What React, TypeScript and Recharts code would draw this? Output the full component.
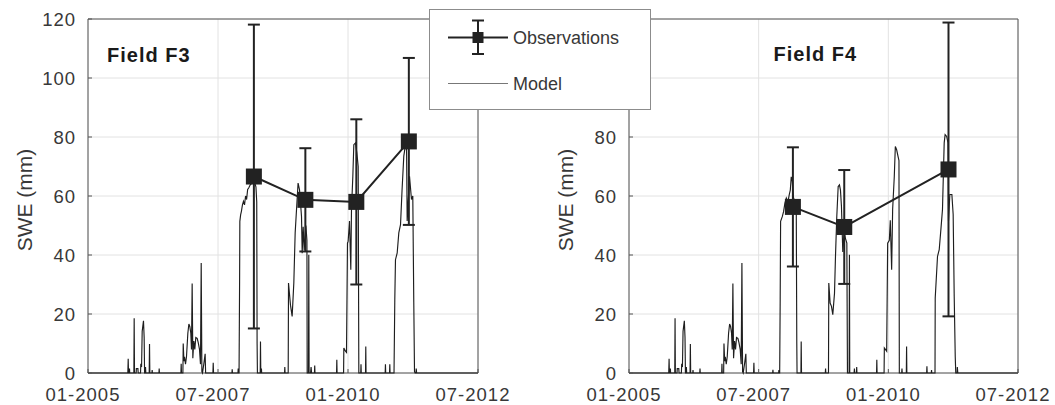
import React from 'react';
import { LineChart, Line, XAxis, YAxis, CartesianGrid, ErrorBar, ReferenceArea } from 'recharts';

const FONT = '"Liberation Sans", Arial, Helvetica, sans-serif';

const xTicks = [2005, 2007.5, 2010, 2012.5];
const xTickLabels = ['01-2005', '07-2007', '01-2010', '07-2012'];
const yTicks = [0, 20, 40, 60, 80, 100, 120];

// observations: decimal year, mean SWE (mm), +/- spread (mm)
const obsF3Dates = [2008.19, 2009.18, 2010.16, 2011.17];
const obsF3Swe = [66.6, 58.7, 58.0, 78.5];
const obsF3Err = [51.5, 17.5, 28.0, 28.3];

const obsF4Dates = [2008.16, 2009.15, 2011.16];
const obsF4Swe = [56.3, 49.5, 69.0];
const obsF4Err = [20.2, 19.3, 49.8];

// model SWE as [decimal year, mm]; the first two winters are the same in both fields
type Pt = [number, number];

const modelEarly: Pt[] = [
  [2005.0, 0], [2005.766, 0], [2005.773, 4.8], [2005.779, 0],
  [2005.794, 0], [2005.798, 1.5], [2005.802, 0],
  [2005.882, 0], [2005.888, 18.6], [2005.894, 0],
  [2005.926, 0], [2005.93, 1.5], [2005.96, 1.5], [2005.965, 0],
  [2006.01, 0], [2006.016, 3.1], [2006.03, 2], [2006.042, 14.1], [2006.067, 17.7], [2006.08, 12], [2006.088, 0],
  [2006.1, 0], [2006.106, 2], [2006.112, 0],
  [2006.177, 0], [2006.183, 9.8], [2006.189, 0],
  [2006.229, 0], [2006.234, 1], [2006.239, 0],
  [2006.364, 0], [2006.369, 1.5], [2006.374, 0],
  [2006.787, 0], [2006.792, 3.1], [2006.798, 0],
  [2006.825, 0], [2006.831, 10], [2006.845, 4], [2006.856, 5.5], [2006.875, 3], [2006.894, 5.5],
  [2006.92, 13.5], [2006.94, 16.6], [2006.958, 15.8], [2006.977, 13.5], [2006.99, 8], [2007.003, 30.3],
  [2007.016, 5], [2007.035, 10.8], [2007.054, 8], [2007.073, 12], [2007.1, 11.7], [2007.119, 10.4],
  [2007.144, 8], [2007.163, 3], [2007.177, 37.3], [2007.19, 0.5], [2007.202, 0],
  [2007.227, 3], [2007.253, 6.5], [2007.262, 0],
  [2007.402, 0], [2007.408, 3.5], [2007.414, 0],
];

const modelF3Late: Pt[] = [
  [2007.768, 0], [2007.773, 1.3], [2007.778, 0],
  [2007.884, 0], [2007.888, 1.5], [2007.895, 0],
  [2007.905, 0], [2007.915, 30], [2007.92, 51.4], [2007.935, 53.6], [2007.95, 54.8], [2007.97, 57],
  [2007.99, 58.2], [2008.01, 57], [2008.03, 60], [2008.05, 58.8], [2008.07, 62.2], [2008.09, 62.7],
  [2008.12, 63.8], [2008.16, 64.5], [2008.2, 65], [2008.23, 63], [2008.245, 58], [2008.252, 10], [2008.258, 0],
  [2008.312, 0], [2008.317, 10.7], [2008.323, 0],
  [2008.33, 0], [2008.335, 1.5], [2008.34, 0],
  [2008.78, 0], [2008.785, 2], [2008.79, 0],
  [2008.85, 0], [2008.856, 30.5], [2008.894, 23], [2008.926, 19.2], [2008.958, 30.5], [2008.984, 47.5],
  [2009.01, 55.4], [2009.04, 64.4], [2009.067, 62.2], [2009.087, 57.6], [2009.106, 53], [2009.119, 40.6],
  [2009.138, 49.6], [2009.157, 41.7], [2009.19, 50], [2009.21, 45], [2009.215, 0],
  [2009.24, 0], [2009.246, 40.1], [2009.252, 0],
  [2009.28, 0], [2009.29, 2], [2009.3, 0],
  [2009.355, 0], [2009.36, 2.5], [2009.365, 0],
  [2009.78, 0], [2009.785, 4.5], [2009.79, 0],
  [2009.915, 0], [2009.92, 8.5], [2009.952, 7.4], [2009.971, 7], [2009.99, 44], [2010.003, 44.7],
  [2010.029, 51.5], [2010.054, 35], [2010.067, 55.4], [2010.093, 66.7], [2010.112, 77.4], [2010.144, 78],
  [2010.17, 74.6], [2010.196, 70], [2010.208, 0],
  [2010.245, 0], [2010.25, 3], [2010.255, 0],
  [2010.337, 0], [2010.342, 9], [2010.347, 0],
  [2010.715, 0], [2010.72, 3], [2010.725, 0],
  [2010.799, 0], [2010.804, 3], [2010.809, 0],
  [2010.885, 0], [2010.9, 24.8], [2010.913, 38.4], [2010.946, 40.7], [2010.977, 47.5], [2011.01, 50.3],
  [2011.04, 62.2], [2011.073, 73.5], [2011.106, 77.4], [2011.125, 79], [2011.138, 51.5], [2011.183, 66.7],
  [2011.221, 58.8], [2011.246, 60], [2011.265, 24], [2011.279, 0.5], [2011.29, 0],
  [2011.308, 0], [2011.312, 1.5], [2011.32, 0],
  [2012.5, 0],
];

const modelF4Late: Pt[] = [
  [2007.77, 0], [2007.775, 1.1], [2007.78, 0],
  [2007.885, 0], [2007.89, 1], [2007.895, 0],
  [2007.905, 0], [2007.915, 25], [2007.923, 51.4], [2007.955, 53], [2007.98, 54.7], [2008.006, 57.6],
  [2008.033, 59.3], [2008.064, 58], [2008.09, 60.5], [2008.11, 62], [2008.128, 66.5], [2008.148, 65],
  [2008.16, 61.4], [2008.173, 59.3], [2008.2, 58], [2008.225, 55], [2008.235, 10], [2008.24, 0],
  [2008.315, 0], [2008.32, 10.7], [2008.326, 0],
  [2008.785, 0], [2008.79, 1.5], [2008.795, 0],
  [2008.846, 0], [2008.852, 30.5], [2008.878, 23.7], [2008.904, 22.6], [2008.929, 19.8], [2008.962, 27],
  [2008.981, 39.5], [2009.006, 53], [2009.033, 63.2], [2009.058, 63.8], [2009.077, 62], [2009.096, 56.5],
  [2009.122, 41], [2009.15, 48], [2009.173, 45.6], [2009.2, 44], [2009.212, 0],
  [2009.244, 0], [2009.25, 40.1], [2009.256, 0],
  [2009.34, 0], [2009.346, 1.5], [2009.352, 0],
  [2009.385, 0], [2009.39, 2], [2009.395, 0],
  [2009.773, 0], [2009.778, 4.5], [2009.783, 0],
  [2009.918, 0], [2009.923, 8.5], [2009.968, 7.4], [2009.987, 44], [2010.019, 45], [2010.038, 51.8],
  [2010.064, 35], [2010.083, 55.4], [2010.115, 66.7], [2010.135, 76.8], [2010.16, 75.7], [2010.186, 73.5],
  [2010.205, 72], [2010.212, 0],
  [2010.258, 0], [2010.263, 1.5], [2010.268, 0],
  [2010.347, 0], [2010.352, 9], [2010.357, 0],
  [2010.739, 0], [2010.744, 2.3], [2010.749, 0],
  [2010.828, 0], [2010.833, 1], [2010.838, 0],
  [2010.9, 0], [2010.904, 25.4], [2010.948, 39.5], [2010.981, 41.8], [2011.013, 48.6], [2011.044, 55.4],
  [2011.077, 78], [2011.095, 80.8], [2011.125, 80.2], [2011.15, 78], [2011.16, 51.5], [2011.186, 60.5],
  [2011.225, 60.5], [2011.25, 53.7], [2011.27, 26], [2011.29, 5.5], [2011.3, 0],
  [2011.325, 0], [2011.33, 2], [2011.34, 0],
  [2012.5, 0],
];

const toModel = (pts: Pt[]) => pts.map(([t, swe]) => ({ t, swe }));
const toObs = (dates: number[], swe: number[], err: number[]) =>
  dates.map((t, i) => ({ t, swe: swe[i], err: err[i] }));

const modelF3 = toModel([...modelEarly, ...modelF3Late]);
const modelF4 = toModel([...modelEarly, ...modelF4Late]);
const obsF3 = toObs(obsF3Dates, obsF3Swe, obsF3Err);
const obsF4 = toObs(obsF4Dates, obsF4Swe, obsF4Err);

const INK = '#222';
const TEXT = '#383838';

const SquareDot = (props: any) => {
  const { cx, cy, index } = props;
  if (cx == null || cy == null) return null;
  return <rect key={`sq-${index}`} x={cx - 8} y={cy - 8} width={16} height={16} fill={INK} />;
};

const XTick = (props: any) => {
  const { x, y, payload } = props;
  const i = xTicks.indexOf(payload.value);
  return (
    <text x={x} y={y} dx={-5} dy={17} textAnchor="middle" fill={TEXT} fontSize={18.5} fontFamily={FONT} style={{ letterSpacing: '1px' }}>
      {xTickLabels[i]}
    </text>
  );
};

const YTick = (props: any) => {
  const { x, y, payload } = props;
  return (
    <text x={x} y={y} dy={7} textAnchor="end" fill={TEXT} fontSize={18.5} fontFamily={FONT} style={{ letterSpacing: '1px' }}>
      {payload.value}
    </text>
  );
};

const YLabel = (props: any) => {
  const vb = props.viewBox;
  const x = vb.x + vb.width - 64;
  const y = vb.y + vb.height / 2 + 4;
  return (
    <text x={x} y={y} transform={`rotate(-90 ${x} ${y})`} textAnchor="middle" dominantBaseline="central" fill={TEXT} fontSize={21} fontFamily={FONT}>
      SWE (mm)
    </text>
  );
};

interface PanelProps {
  title: string;
  model: { t: number; swe: number }[];
  obs: { t: number; swe: number; err: number }[];
  axisWidth: number;
  rightMargin: number;
  titleDx: number;
  titleDy: number;
}

const Panel = ({ title, model, obs, axisWidth, rightMargin, titleDx, titleDy }: PanelProps) => (
  <LineChart width={527} height={405} margin={{ top: 19, right: rightMargin, bottom: 0, left: 0 }}>
    <CartesianGrid stroke="#e2e2e2" strokeWidth={1} />
    <XAxis
      type="number"
      dataKey="t"
      domain={[2005, 2012.5]}
      ticks={xTicks}
      interval={0}
      height={32}
      axisLine={false}
      tickLine={{ stroke: '#555', strokeWidth: 1 }}
      tickSize={-4}
      tickMargin={15}
      tick={<XTick />}
    />
    <YAxis
      type="number"
      domain={[0, 120]}
      ticks={yTicks}
      interval={0}
      width={axisWidth}
      axisLine={false}
      tickLine={{ stroke: '#555', strokeWidth: 1 }}
      tickSize={-4}
      tickMargin={16}
      tick={<YTick />}
      label={(p: any) => <YLabel {...p} />}
    />
    <ReferenceArea
      x1={2005}
      x2={2012.5}
      y1={0}
      y2={120}
      ifOverflow="visible"
      fill="none"
      fillOpacity={0}
      stroke="#555"
      strokeWidth={1}
      label={(p: any) => (
        <text x={p.viewBox.x + titleDx} y={p.viewBox.y + titleDy} fill="#1a1a1a" fontSize={20} fontWeight="bold" fontFamily={FONT} style={{ letterSpacing: '1px' }}>
          {title}
        </text>
      )}
    />
    <Line
      data={model}
      dataKey="swe"
      type="linear"
      stroke="#1e1e1e"
      strokeWidth={1.15}
      dot={false}
      activeDot={false}
      isAnimationActive={false}
    />
    <Line
      data={obs}
      dataKey="swe"
      type="linear"
      stroke={INK}
      strokeWidth={2}
      dot={<SquareDot />}
      activeDot={false}
      isAnimationActive={false}
    >
      <ErrorBar dataKey="err" direction="y" width={6} stroke={INK} strokeWidth={2} />
    </Line>
  </LineChart>
);

const Legend = () => (
  <div
    style={{
      position: 'absolute',
      left: 429,
      top: 9,
      width: 222,
      height: 101,
      boxSizing: 'border-box',
      border: '1px solid #8c8c8c',
      background: '#fff',
    }}
  >
    <svg width={220} height={99} style={{ display: 'block' }}>
      <line x1={18} y1={27.5} x2={78} y2={27.5} stroke={INK} strokeWidth={2} />
      <line x1={48} y1={10.5} x2={48} y2={44} stroke={INK} strokeWidth={2} />
      <line x1={42} y1={10.5} x2={54} y2={10.5} stroke={INK} strokeWidth={2} />
      <line x1={42} y1={44} x2={54} y2={44} stroke={INK} strokeWidth={2} />
      <rect x={42.5} y={22} width={11} height={11} fill={INK} />
      <text x={83} y={34} fontSize={18} fill={TEXT} fontFamily={FONT}>Observations</text>
      <line x1={18} y1={73.5} x2={78} y2={73.5} stroke="#777" strokeWidth={1} />
      <text x={83} y={79.5} fontSize={18} fill={TEXT} fontFamily={FONT}>Model</text>
    </svg>
  </div>
);

export default function App() {
  return (
    <div style={{ position: 'absolute', left: 0, top: 0, width: 1055, height: 405, background: '#fff', fontFamily: FONT }}>
      <div style={{ position: 'absolute', left: 0, top: 0 }}>
        <Panel title="Field F3" model={modelF3} obs={obsF3} axisWidth={88} rightMargin={49} titleDx={19} titleDy={42.5} />
      </div>
      <div style={{ position: 'absolute', left: 528, top: 0 }}>
        <Panel title="Field F4" model={modelF4} obs={obsF4} axisWidth={101} rightMargin={37} titleDx={144.5} titleDy={41.5} />
      </div>
      <Legend />
    </div>
  );
}
